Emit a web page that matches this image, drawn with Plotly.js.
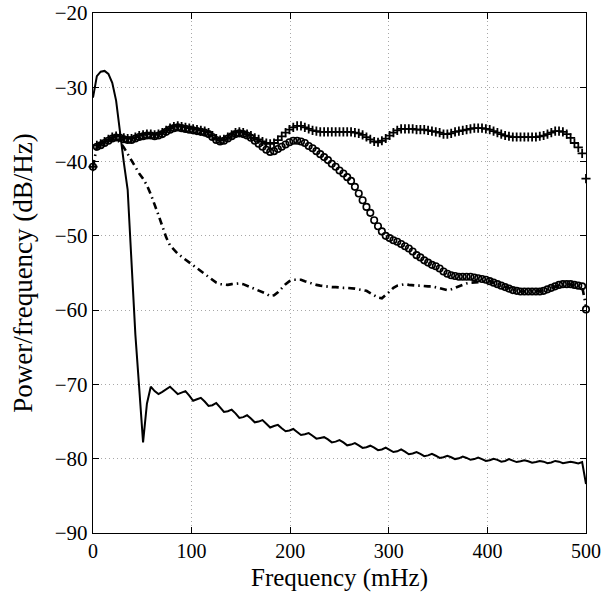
<!DOCTYPE html>
<html>
<head>
<meta charset="utf-8">
<script src="https://cdn.plot.ly/plotly-3.0.1.min.js"></script>
<style>html,body{margin:0;padding:0;background:#fff;}#chart{width:601px;height:597px;}</style>
</head>
<body>
<div id="chart"></div>
<script>
// Frequency bins (mHz)
const freq = [
0,3.91,7.81,11.72,15.63,19.53,23.44,27.34,
31.25,35.16,39.06,42.97,46.88,50.78,54.69,58.59,
62.5,66.41,70.31,74.22,78.13,82.03,85.94,89.84,
93.75,97.66,101.56,105.47,109.38,113.28,117.19,121.09,
125,128.91,132.81,136.72,140.63,144.53,148.44,152.34,
156.25,160.16,164.06,167.97,171.88,175.78,179.69,183.59,
187.5,191.41,195.31,199.22,203.13,207.03,210.94,214.84,
218.75,222.66,226.56,230.47,234.38,238.28,242.19,246.09,
250,253.91,257.81,261.72,265.63,269.53,273.44,277.34,
281.25,285.16,289.06,292.97,296.88,300.78,304.69,308.59,
312.5,316.41,320.31,324.22,328.13,332.03,335.94,339.84,
343.75,347.66,351.56,355.47,359.38,363.28,367.19,371.09,
375,378.91,382.81,386.72,390.63,394.53,398.44,402.34,
406.25,410.16,414.06,417.97,421.88,425.78,429.69,433.59,
437.5,441.41,445.31,449.22,453.13,457.03,460.94,464.84,
468.75,472.66,476.56,480.47,484.38,488.28,492.19,496.09,
500];

// '+' marker series (dB/Hz)
const plusSeries = [
-40.7,-37.8,-37.6,-37.3,-37.0,-36.7,-36.55,-36.6,
-36.8,-36.9,-36.9,-36.7,-36.5,-36.4,-36.3,-36.3,
-36.4,-36.3,-36.1,-35.8,-35.5,-35.3,-35.2,-35.3,
-35.4,-35.5,-35.6,-35.7,-35.8,-35.9,-36.1,-36.5,
-36.9,-37.1,-37.0,-36.7,-36.4,-36.1,-36.0,-36.1,
-36.3,-36.5,-36.8,-37.0,-37.3,-37.5,-37.6,-37.5,
-37.1,-36.6,-36.1,-35.7,-35.4,-35.2,-35.2,-35.4,
-35.6,-35.8,-35.9,-36.0,-36.0,-36.0,-36.0,-36.0,
-36.0,-36.0,-36.0,-36.0,-36.1,-36.2,-36.4,-36.7,
-37.0,-37.3,-37.4,-37.2,-36.9,-36.5,-36.1,-35.8,
-35.6,-35.6,-35.6,-35.6,-35.7,-35.7,-35.7,-35.8,
-35.9,-36.0,-36.1,-36.3,-36.3,-36.2,-36.0,-35.9,
-35.8,-35.7,-35.6,-35.5,-35.5,-35.5,-35.6,-35.7,
-35.9,-36.1,-36.3,-36.5,-36.6,-36.7,-36.7,-36.7,
-36.7,-36.7,-36.7,-36.7,-36.6,-36.5,-36.3,-36.1,
-35.9,-35.9,-36.0,-36.3,-36.8,-37.5,-38.1,-38.9,
-42.3];

// 'o' marker series (dB/Hz)
const circleSeries = [
-40.7,-38.0,-37.8,-37.5,-37.2,-36.9,-36.75,-36.8,
-37.0,-37.1,-37.1,-36.9,-36.7,-36.6,-36.5,-36.5,
-36.6,-36.5,-36.3,-36.0,-35.7,-35.5,-35.4,-35.5,
-35.6,-35.7,-35.8,-35.9,-36.0,-36.1,-36.3,-36.7,
-37.1,-37.3,-37.2,-36.9,-36.6,-36.3,-36.2,-36.3,
-36.5,-36.8,-37.2,-37.6,-38.0,-38.4,-38.7,-38.6,
-38.3,-38.0,-37.7,-37.4,-37.2,-37.2,-37.3,-37.5,
-37.9,-38.2,-38.6,-39.0,-39.4,-39.8,-40.3,-40.7,
-41.2,-41.6,-42.1,-42.6,-43.4,-44.3,-45.2,-46.1,
-46.9,-47.9,-48.7,-49.4,-50.0,-50.3,-50.6,-50.8,
-51.1,-51.4,-51.7,-52.1,-52.6,-52.9,-53.3,-53.6,
-53.9,-54.1,-54.4,-54.8,-55.1,-55.3,-55.4,-55.5,
-55.5,-55.5,-55.5,-55.6,-55.7,-55.8,-55.9,-56.1,
-56.3,-56.5,-56.7,-56.9,-57.1,-57.3,-57.4,-57.5,
-57.5,-57.5,-57.5,-57.5,-57.5,-57.4,-57.2,-57.0,
-56.8,-56.6,-56.5,-56.5,-56.5,-56.6,-56.7,-56.8,
-59.9];

// dash-dot series (dB/Hz)
const dashDotSeries = [
-40.7,-38.0,-37.7,-37.5,-37.2,-37.0,-37.0,-37.4,
-38.1,-39.0,-40.0,-40.9,-41.6,-42.3,-43.2,-44.4,
-45.7,-47.2,-48.7,-50.2,-51.3,-51.9,-52.4,-52.8,
-53.2,-53.6,-54.0,-54.4,-54.8,-55.2,-55.6,-56.0,
-56.3,-56.5,-56.6,-56.6,-56.5,-56.4,-56.4,-56.5,
-56.7,-56.9,-57.1,-57.3,-57.5,-57.8,-58.1,-58.0,
-57.6,-57.0,-56.5,-56.1,-55.9,-55.9,-55.9,-56.1,
-56.3,-56.5,-56.6,-56.7,-56.8,-56.8,-56.9,-56.9,
-57.0,-57.0,-57.0,-57.0,-57.1,-57.2,-57.3,-57.4,
-57.7,-58.0,-58.3,-58.4,-58.0,-57.5,-57.0,-56.7,
-56.6,-56.5,-56.6,-56.7,-56.7,-56.7,-56.8,-56.8,
-56.8,-56.9,-57.1,-57.2,-57.3,-57.2,-57.0,-56.7,
-56.5,-56.4,-56.3,-56.3,-56.3,-56.2,-56.1,-56.1,
-56.3,-56.5,-56.7,-56.9,-57.1,-57.3,-57.4,-57.5,
-57.5,-57.5,-57.5,-57.5,-57.5,-57.4,-57.2,-57.0,
-56.8,-56.6,-56.5,-56.5,-56.5,-56.6,-56.7,-56.8,
-59.5];

// solid line series (dB/Hz)
const solidSeries = [
-31.4,-28.5,-27.9,-27.8,-28.2,-29.4,-31.8,-36.1,
-40.1,-43.8,-53.5,-63.3,-70.5,-77.8,-72.6,-70.3,
-70.9,-71.3,-71.0,-70.6,-70.3,-70.8,-71.3,-71.1,
-70.9,-71.5,-72.2,-72.0,-71.8,-72.3,-72.9,-72.8,
-72.5,-73.1,-73.7,-73.6,-73.4,-73.9,-74.5,-74.4,
-74.15,-74.6,-75.1,-75.0,-74.8,-75.3,-75.8,-75.6,
-75.45,-75.9,-76.3,-76.2,-76.0,-76.4,-76.8,-76.7,
-76.55,-76.9,-77.3,-77.2,-77.1,-77.4,-77.8,-77.7,
-77.5,-77.8,-78.2,-78.1,-77.9,-78.2,-78.55,-78.45,
-78.25,-78.5,-78.85,-78.75,-78.5,-78.8,-79.1,-79.0,
-78.75,-79.05,-79.4,-79.3,-79.1,-79.35,-79.65,-79.55,
-79.35,-79.6,-79.9,-79.8,-79.6,-79.8,-80.05,-79.95,
-79.7,-79.9,-80.15,-80.05,-79.85,-80.05,-80.3,-80.2,
-80.0,-80.15,-80.4,-80.3,-80.05,-80.25,-80.45,-80.35,
-80.2,-80.35,-80.55,-80.45,-80.3,-80.4,-80.6,-80.5,
-80.3,-80.4,-80.6,-80.5,-80.4,-80.5,-80.65,-80.45,
-83.4];

const xTicks = [0, 100, 200, 300, 400, 500];
const yTicks = [-90, -80, -70, -60, -50, -40, -30, -20];

const FONT = '"Liberation Serif", "Times New Roman", serif';

const traces = [
  { x: freq, y: solidSeries, mode: 'lines', type: 'scatter',
    line: { color: '#000', width: 2 }, hoverinfo: 'skip' },
  { x: freq, y: dashDotSeries, mode: 'lines', type: 'scatter',
    line: { color: '#000', width: 2.6, dash: '7px,4px,1.5px,4px' }, hoverinfo: 'skip' },
  { x: freq, y: plusSeries, mode: 'markers', type: 'scatter', cliponaxis: false,
    marker: { symbol: 'cross-thin-open', size: 6.5, color: '#000', line: { color: '#000', width: 1.8 } }, hoverinfo: 'skip' },
  { x: freq, y: circleSeries, mode: 'markers', type: 'scatter', cliponaxis: false,
    marker: { symbol: 'circle-open', size: 6.5, color: '#000', line: { color: '#000', width: 1.6 } }, hoverinfo: 'skip' }
];

const axisCommon = {
  showline: true, linecolor: '#000', linewidth: 1.2, mirror: 'ticks',
  ticks: 'inside', ticklen: 6, tickcolor: '#000', tickwidth: 1,
  showgrid: true, gridcolor: '#a8a8a8', gridwidth: 1, griddash: '1px,3px',
  zeroline: false, ticklabeloverflow: 'allow',
  tickfont: { family: FONT, size: 21, color: '#000' }
};

const layout = {
  width: 601, height: 597,
  margin: { l: 93, r: 15, t: 13, b: 64 },
  paper_bgcolor: '#fff', plot_bgcolor: '#fff',
  showlegend: false,
  font: { family: FONT, color: '#000' },
  xaxis: Object.assign({}, axisCommon, {
    range: [0, 500], tickvals: xTicks, ticktext: xTicks.map(String),
    tickfont: { family: FONT, size: 20, color: '#000' },
    title: { text: 'Frequency (mHz)', font: { family: FONT, size: 25, color: '#000' }, standoff: 7 }
  }),
  yaxis: Object.assign({}, axisCommon, {
    range: [-90, -20], tickvals: yTicks,
    title: { text: 'Power/frequency (dB/Hz)', font: { family: FONT, size: 27, color: '#000' }, standoff: 14 }
  })
};

Plotly.newPlot('chart', traces, layout, { staticPlot: true, displayModeBar: false });
</script>
</body>
</html>
